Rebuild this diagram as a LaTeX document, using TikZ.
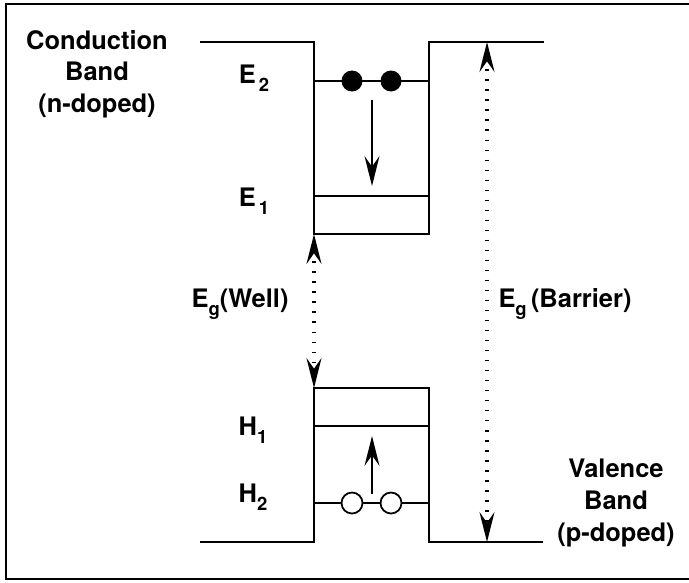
\documentclass[tikz,border=0pt]{standalone}
\usepackage{fontspec}
\setmainfont{TeX Gyre Heros}
\usetikzlibrary{arrows.meta}

% level label with lowered index
\newcommand{\lvl}[2]{#1\raisebox{-0.55ex}{\fontsize{10.5}{10.5}\selectfont #2}}

\begin{document}
\begin{tikzpicture}[x=0.02cm, y=-0.02cm, line width=1pt,
    >={Stealth[length=17pt, width=8.5pt, inset=6pt]},
    lbl/.style={font=\fontsize{14.5}{18}\selectfont\bfseries, align=center},
    gap/.style={<->, line width=1.8pt, dash pattern=on 0.9pt off 4.8pt},
    electron/.style={circle, fill=black, inner sep=0pt, minimum size=0.42cm},
    hole/.style={circle, draw, fill=white, inner sep=0pt, minimum size=0.42cm}]
    \useasboundingbox (0,0) rectangle (689,582);

    % frame (right edge cut off)
    \draw[line width=1.2pt] (689,4) -- (6,4) -- (6,579) -- (689,579);

    % conduction band with well
    \draw (200,42) -- (314,42) -- (314,234) -- (429,234) -- (429,42) -- (544,42);
    \draw (314,81) -- (429,81);
    \draw (314,196) -- (429,196);

    % valence band with well
    \draw (200,542) -- (314,542) -- (314,388) -- (429,388) -- (429,542) -- (543,542);
    \draw (314,426) -- (429,426);
    \draw (314,503) -- (429,503);

    % carriers
    \node[electron] (el1) at (352,81) {};
    \node[electron] (el2) at (391,81) {};
    \node[hole] (ho1) at (352,503) {};
    \node[hole] (ho2) at (391,503) {};

    % relaxation arrows
    \coordinate (dnA) at (372,100);
    \coordinate (dnB) at (372,186);
    \coordinate (upA) at (372,494);
    \coordinate (upB) at (372,436);
    \draw[->] (dnA) -- (dnB);
    \draw[->] (upA) -- (upB);

    % band gaps
    \coordinate (wellTop) at (314,234);
    \coordinate (wellBot) at (314,388);
    \coordinate (barTop) at (487,42);
    \coordinate (barBot) at (487,542);
    \draw[gap] (wellTop) -- (wellBot);
    \draw[gap] (barTop) -- (barBot);

    % labels
    \node[lbl] (cb) at (97,74) {Conduction\\Band\\(n-doped)};
    \node[lbl] (vb) at (616,503) {Valence\\Band\\(p-doped)};
    \node[lbl] (e2) at (254,78) {\lvl{E}{\,2}};
    \node[lbl] (e1) at (254,201) {\lvl{E}{\,1}};
    \node[lbl] (h1) at (253,430) {\lvl{H}{1}};
    \node[lbl] (h2) at (253,497) {\lvl{H}{2}};
    \node[lbl] (egw) at (240,304) {\lvl{E}{g}(Well)};
    \node[lbl] (egb) at (565,304) {\lvl{E}{g}\,(Barrier)};
\end{tikzpicture}
\end{document}
